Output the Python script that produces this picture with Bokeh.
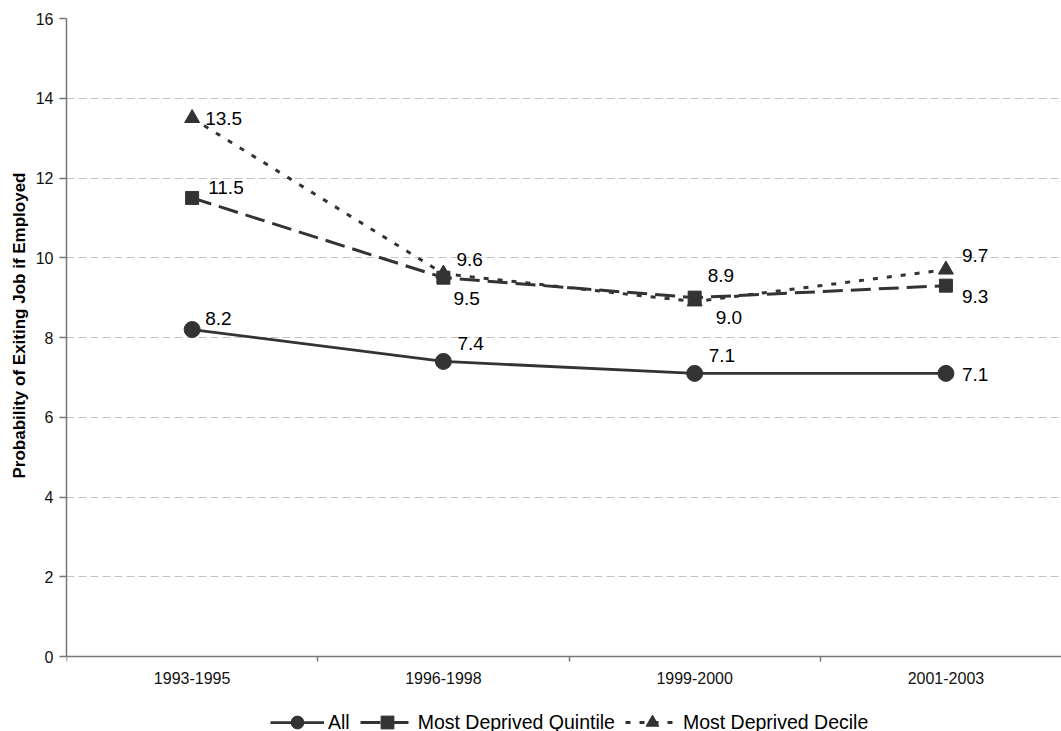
from bokeh.plotting import figure
from bokeh.models import Range1d, FixedTicker, Legend, LegendItem, ColumnDataSource, Title
from bokeh.core.properties import value
from bokeh.embed import file_html
from bokeh.resources import INLINE

# Job-exit probability by period
periods = ["1993-1995", "1996-1998", "1999-2000", "2001-2003"]
all_rate = [8.2, 7.4, 7.1, 7.1]
quintile_rate = [11.5, 9.5, 9.0, 9.3]
decile_rate = [13.5, 9.6, 8.9, 9.7]
y_ticks = [0, 2, 4, 6, 8, 10, 12, 14, 16]

# screen-pixel nudges for the value labels (right, down)
all_dx = [13, 14, 14, 16]
all_dy = [-11, -18, -18, 1]
quint_dx = [16, 10, 21, 16]
quint_dy = [-10, 21, 20, 11]
dec_dx = [13, 13, 13, 16]
dec_dy = [0, -14, -26, -14]

FONT = "Liberation Sans"
INK = "#333333"
AXIS = "#777777"

xs = [i + 0.5 for i in range(len(periods))]

# the frame runs to the bottom of the canvas; the strip below y=0 holds
# the period names and the legend
PX_PER_UNIT = 638 / 16
y_floor = -75 / PX_PER_UNIT

p = figure(
    width=1061, height=731,
    x_range=Range1d(0, 3.96), y_range=Range1d(y_floor, 16),
    output_backend="svg", toolbar_location=None,
    min_border_left=66, min_border_right=0,
    min_border_top=18, min_border_bottom=0,
)
p.outline_line_color = None
p.background_fill_color = "white"
p.border_fill_color = "white"

# x axis pinned at y=0: category names centred, boundary ticks as minor ticks
p.xaxis.fixed_location = 0
p.xaxis.ticker = FixedTicker(ticks=xs, minor_ticks=[0, 1, 2, 3, 4])
p.xaxis.major_label_overrides = {x: lab for x, lab in zip(xs, periods)}
p.xaxis.major_tick_line_color = None
p.xaxis.major_tick_out = 0
p.xaxis.major_tick_in = 0
p.xaxis.minor_tick_out = 5
p.xaxis.minor_tick_in = 0
p.xaxis.minor_tick_line_color = AXIS
p.xaxis.minor_tick_line_width = 1.5
p.xaxis.major_label_standoff = 10
p.xaxis.axis_line_color = AXIS
p.xaxis.axis_line_width = 1.5
p.xaxis.major_label_text_font = FONT
p.xaxis.major_label_text_font_size = "16px"
p.xaxis.major_label_text_color = "#111111"

# y axis, drawn only over 0..16
p.yaxis.bounds = (0, 16)
p.yaxis.ticker = FixedTicker(ticks=y_ticks)
p.yaxis.minor_tick_line_color = None
p.yaxis.major_tick_out = 7
p.yaxis.major_tick_in = 0
p.yaxis.major_tick_line_color = AXIS
p.yaxis.major_tick_line_width = 1.5
p.yaxis.major_label_standoff = 6
p.yaxis.axis_line_color = AXIS
p.yaxis.axis_line_width = 1.5
p.yaxis.major_label_text_font = FONT
p.yaxis.major_label_text_font_size = "16px"
p.yaxis.major_label_text_color = "#111111"

# y title, placed over the 0..16 span rather than the whole frame
y_title = Title(
    text="Probability of Exiting Job if Employed",
    align="right", offset=154, standoff=8,
    text_font=FONT, text_font_size="17px", text_font_style="bold",
    text_color="#000000",
)
p.add_layout(y_title, "left")

p.xgrid.grid_line_color = None
p.ygrid.grid_line_color = "#c4c4c4"
p.ygrid.grid_line_dash = "8 4"
p.ygrid.grid_line_width = 1

src = ColumnDataSource(dict(
    x=xs, all=all_rate, quint=quintile_rate, dec=decile_rate,
    all_lab=[f"{v:.1f}" for v in all_rate],
    quint_lab=[f"{v:.1f}" for v in quintile_rate],
    dec_lab=[f"{v:.1f}" for v in decile_rate],
    all_dx=all_dx, all_dy=all_dy,
    quint_dx=quint_dx, quint_dy=quint_dy,
    dec_dx=dec_dx, dec_dy=dec_dy,
))

l_dec = p.line("x", "dec", source=src, line_color=INK, line_width=3, line_dash="5 9")
m_dec = p.scatter("x", "dec", source=src, marker="triangle", size=15,
                  fill_color=INK, line_color=INK)
l_quint = p.line("x", "quint", source=src, line_color=INK, line_width=3, line_dash="20 8")
m_quint = p.scatter("x", "quint", source=src, marker="square", size=13,
                    fill_color=INK, line_color=INK)
l_all = p.line("x", "all", source=src, line_color=INK, line_width=2.75)
m_all = p.scatter("x", "all", source=src, marker="circle", size=16,
                  fill_color=INK, line_color=INK)

for col, dx, dy in (("all_lab", "all_dx", "all_dy"),
                    ("quint_lab", "quint_dx", "quint_dy"),
                    ("dec_lab", "dec_dx", "dec_dy")):
    ycol = col.replace("_lab", "")
    p.text(x="x", y=ycol, text=col, source=src, x_offset=dx, y_offset=dy,
           text_font=value(FONT), text_font_size="19px", text_color="#000000",
           text_align="left", text_baseline="middle")

legend = Legend(
    items=[
        LegendItem(label="All", renderers=[l_all, m_all]),
        LegendItem(label="Most Deprived Quintile", renderers=[l_quint, m_quint]),
        LegendItem(label="Most Deprived Decile", renderers=[l_dec, m_dec]),
    ],
    orientation="horizontal",
    location=(204, -7),
    glyph_width=54, glyph_height=32, label_height=32,
    label_standoff=4, spacing=10, padding=0, margin=0,
    label_text_font=FONT, label_text_font_size="19.5px",
    label_text_color="#000000",
    border_line_color=None, background_fill_alpha=0,
)
p.add_layout(legend)

open("out.html", "w").write(file_html(p, INLINE))
